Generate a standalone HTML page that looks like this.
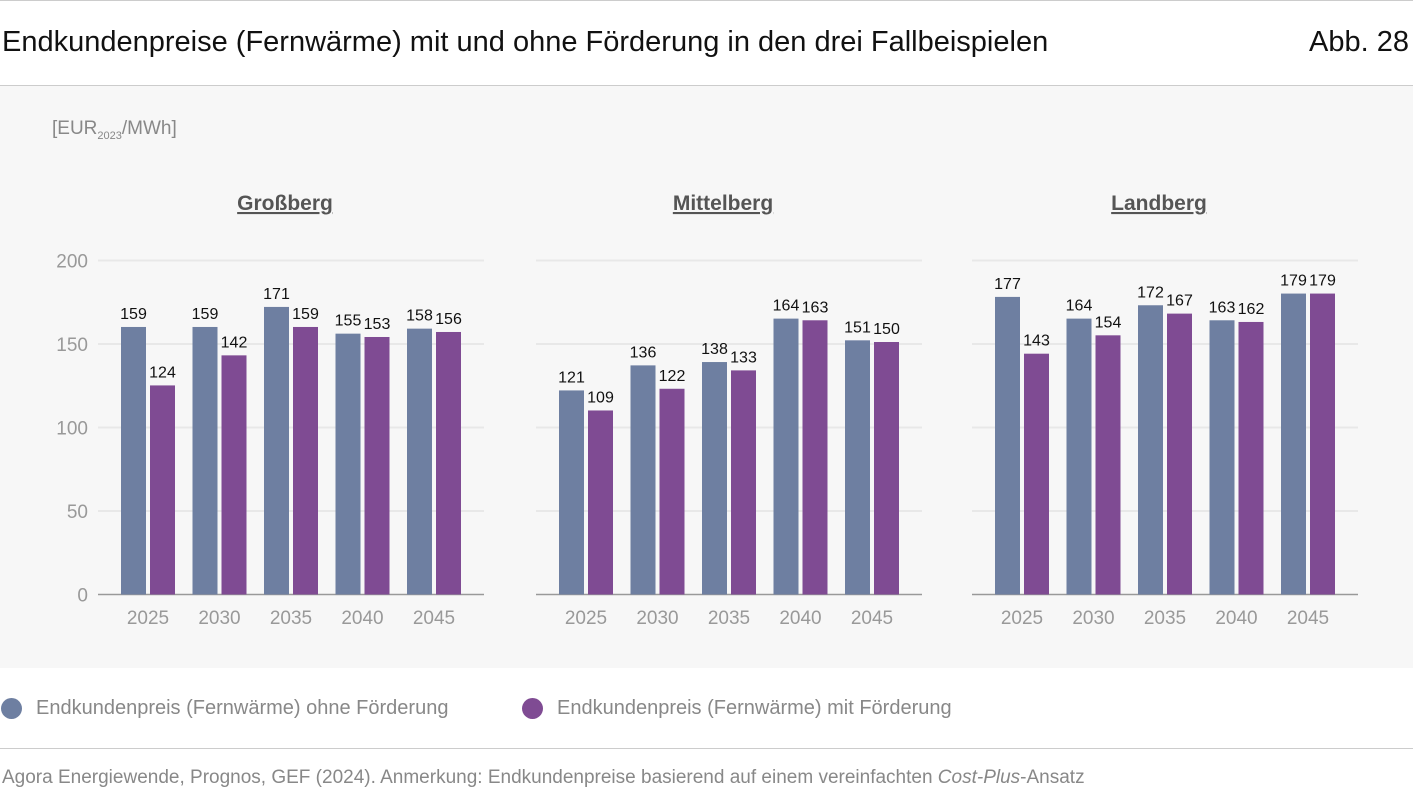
<!DOCTYPE html>
<html><head><meta charset="utf-8"><style>
body{margin:0;width:1413px;height:810px;background:#fff;font-family:"Liberation Sans",sans-serif;overflow:hidden;position:relative}
.t{position:absolute;white-space:nowrap}
</style></head><body>
<div style="position:absolute;left:0;top:0;width:1413px;height:1px;background:#ccc"></div>
<div class="t" style="left:2px;top:26px;font-size:29px;color:#111">Endkundenpreise (Fernwärme) mit und ohne Förderung in den drei Fallbeispielen</div>
<div class="t" style="right:4px;top:26px;font-size:29px;color:#111">Abb. 28</div>
<div style="position:absolute;left:0;top:85px;width:1413px;height:582px;background:#f7f7f7;border-top:1px solid #ccc"></div>
<div class="t" style="left:52px;top:118px;font-size:19px;color:#888">[EUR<sub style="font-size:11px">2023</sub>/MWh]</div>
<svg id="chart" width="1413" height="810" style="position:absolute;left:0;top:0"></svg>
<div>
<div style="position:absolute;left:1px;top:698px;width:21px;height:21px;border-radius:50%;background:#6e7fa1"></div>
<div class="t" style="left:36px;top:697px;font-size:20px;color:#888">Endkundenpreis (Fernwärme) ohne Förderung</div>
<div style="position:absolute;left:522px;top:698px;width:21px;height:21px;border-radius:50%;background:#7f4b93"></div>
<div class="t" style="left:557px;top:697px;font-size:20px;color:#888">Endkundenpreis (Fernwärme) mit Förderung</div>
</div>
<div style="position:absolute;left:0;top:748px;width:1413px;height:1px;background:#ccc"></div>
<div class="t" style="left:2px;top:767px;font-size:19px;color:#888">Agora Energiewende, Prognos, GEF (2024). Anmerkung: Endkundenpreise basierend auf einem vereinfachten <i>Cost-Plus</i>-Ansatz</div>
<script>
const panels=["Großberg","Mittelberg","Landberg"];
const years=["2025","2030","2035","2040","2045"];
const ohne=[[159,159,171,155,158],[121,136,138,164,151],[177,164,172,163,179]];
const mit=[[124,142,159,153,156],[109,122,133,163,150],[143,154,167,162,179]];
const yTicks=[0,50,100,150,200];
const NS="http://www.w3.org/2000/svg";
const svg=document.getElementById('chart');
const panelX=[98,536,972], panelW=386;
const y0=594.5, yScale=334/200;
function y(v){return y0-v*yScale;}
function mk(tag,attrs,parent){const e=document.createElementNS(NS,tag);for(const k in attrs)e.setAttribute(k,attrs[k]);(parent||svg).appendChild(e);return e;}
panels.forEach((p,pi)=>{
  const g=mk('g',{});
  
  
  const px=panelX[pi];
  yTicks.forEach(t=>{
    if(t>0){const l=mk('line',{x1:px,x2:px+panelW,y1:y(t),y2:y(t),stroke:'#e8e8e8','stroke-width':2},g);
    }
    if(pi===0){const tx=mk('text',{x:88,y:y(t)+7,'text-anchor':'end','font-size':19,fill:'#999'},g);tx.textContent=t;
    }
  });
  const ax=mk('line',{x1:px,x2:px+panelW,y1:y0,y2:y0,stroke:'#999','stroke-width':1.5},g);
  
  const tt=mk('text',{x:px+panelW/2-6,y:210,'text-anchor':'middle','font-size':21,'font-weight':'bold',fill:'#555','text-decoration':'underline'},g);
  tt.textContent=p;
  years.forEach((yr,i)=>{
    const gx=px+23+i*71.5;
    [[ohne,'#6e7fa1',0],[mit,'#7f4b93',29]].forEach(([arr,c,off])=>{
      const v=arr[pi][i];
      const r=mk('rect',{x:gx+off,y:y(v)-2,width:25,height:y0-y(v)+2,fill:c},g);
      
      const lb=mk('text',{x:gx+off+12.5,y:y(v)-10,'text-anchor':'middle','font-size':16,fill:'#111'},g);
      lb.textContent=v;
    });
    const xl=mk('text',{x:gx+27,y:624,'text-anchor':'middle','font-size':19,fill:'#999'},g);
    xl.textContent=yr;
  });
});
</script>
</body></html>
